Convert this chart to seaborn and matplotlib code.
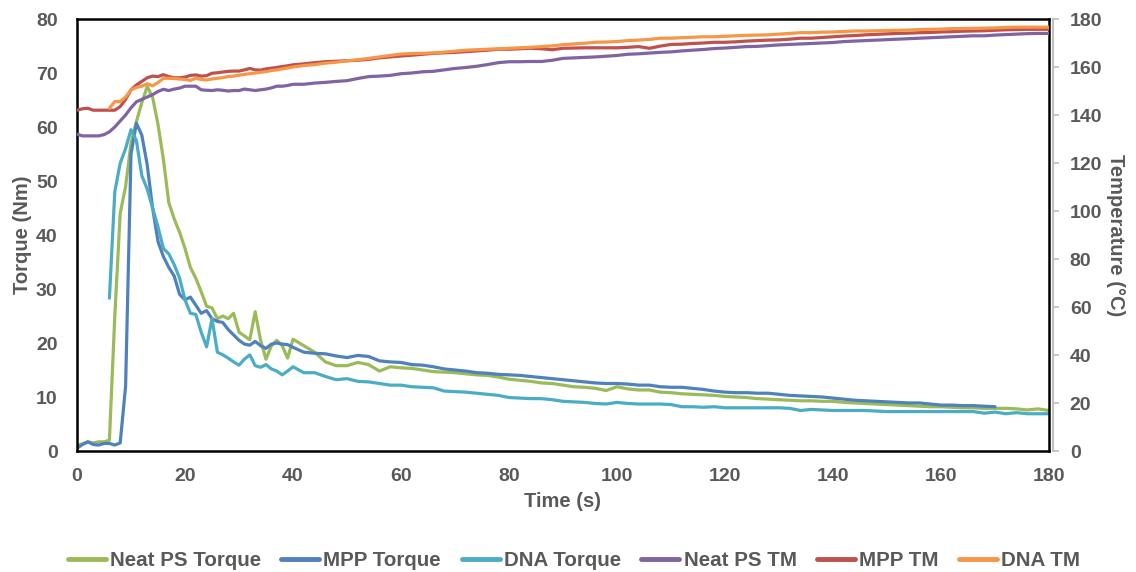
import numpy as np
import pandas as pd
import matplotlib
matplotlib.use("Agg")
import matplotlib.pyplot as plt
import seaborn as sns
from matplotlib.lines import Line2D

nan = np.nan

# ---- data ----
time_s = list(range(0, 41)) + list(range(42, 181, 2))

neat_ps_torque = [
    1.1, 1.3, 1.7, 1.5, 1.7, 1.7, 2.0, 25.0, 44.0, 49.0,
    57.0, 61.0, 64.5, 67.5, 65.5, 60.5, 54.0, 46.0, 43.0, 40.5,
    37.5, 34.0, 32.0, 29.5, 26.8, 26.5, 24.5, 25.0, 24.5, 25.5,
    22.0, 21.3, 20.6, 25.8, 20.5, 17.0, 19.5, 20.5, 19.5, 17.2,
    20.7,
    19.5, 18.3, 16.5, 15.8, 15.8, 16.4, 16.0, 14.8, 15.6, 15.4,
    15.3, 15.0, 14.7, 14.6, 14.5, 14.3, 14.1, 14.0, 13.7, 13.3,
    13.1, 12.9, 12.6, 12.5, 12.2, 11.9, 11.8, 11.6, 11.2, 11.9,
    11.5, 11.3, 11.3, 10.9, 10.8, 10.6, 10.5, 10.4, 10.3, 10.1,
    10.0, 9.9, 9.7, 9.6, 9.5, 9.4, 9.3, 9.3, 9.2, 9.2,
    9.0, 8.9, 8.8, 8.7, 8.6, 8.5, 8.4, 8.3, 8.2, 8.2,
    8.1, 8.0, 8.0, 7.9, 7.9, 7.9, 7.8, 7.6, 7.8, 7.5,
]

mpp_torque = [
    0.5, 1.2, 1.7, 1.2, 1.1, 1.4, 1.4, 1.1, 1.5, 12.0,
    55.0, 60.7, 58.5, 53.0, 45.0, 38.8, 36.0, 34.0, 32.4, 29.0,
    28.0, 28.5, 27.0, 25.5, 26.0, 24.5, 24.0, 23.8, 22.5, 21.5,
    20.5, 19.8, 19.6, 20.3, 19.5, 19.0, 19.8, 20.0, 19.8, 19.7,
    19.2,
    18.3, 18.1, 18.0, 17.6, 17.3, 17.7, 17.5, 16.7, 16.5, 16.4,
    16.0, 15.9, 15.6, 15.2, 15.0, 14.8, 14.5, 14.4, 14.2, 14.1,
    14.0, 13.8, 13.6, 13.4, 13.2, 13.0, 12.8, 12.6, 12.5, 12.5,
    12.4, 12.2, 12.2, 11.9, 11.8, 11.8, 11.6, 11.4, 11.1, 10.9,
    10.8, 10.8, 10.7, 10.7, 10.5, 10.3, 10.2, 10.1, 10.0, 9.8,
    9.6, 9.4, 9.3, 9.2, 9.1, 9.0, 8.9, 8.9, 8.7, 8.5,
    8.5, 8.4, 8.4, 8.3, 8.2, nan, nan, nan, nan, nan,
]

dna_torque = [
    nan, nan, nan, nan, nan, nan, 28.3, 48.0, 53.3, 56.0,
    59.5, 57.5, 51.0, 48.5, 45.0, 41.5, 37.5, 36.5, 34.5, 32.0,
    28.0, 25.5, 25.3, 22.0, 19.3, 24.5, 18.3, 17.8, 17.2, 16.5,
    15.9, 17.0, 17.8, 15.8, 15.5, 16.0, 15.2, 14.8, 14.1, 14.8,
    15.6,
    14.5, 14.5, 13.8, 13.2, 13.4, 12.9, 12.8, 12.5, 12.2, 12.2,
    11.9, 11.8, 11.7, 11.1, 11.0, 10.9, 10.7, 10.5, 10.3, 9.9,
    9.8, 9.7, 9.7, 9.5, 9.2, 9.1, 9.0, 8.8, 8.7, 9.0,
    8.8, 8.7, 8.7, 8.7, 8.6, 8.2, 8.2, 8.1, 8.2, 8.0,
    8.0, 8.0, 8.0, 8.0, 8.0, 7.9, 7.5, 7.7, 7.6, 7.5,
    7.5, 7.5, 7.5, 7.4, 7.3, 7.3, 7.3, 7.3, 7.3, 7.3,
    7.3, 7.3, 7.3, 7.0, 7.2, 6.9, 7.1, 6.9, 6.9, 6.9,
]

neat_ps_tm = [
    132.0, 131.3, 131.3, 131.3, 131.3, 131.8, 133.0, 135.0, 137.5, 140.0,
    143.0, 145.5, 146.5, 147.5, 148.5, 149.8, 150.7, 150.2, 150.8, 151.2,
    152.0, 152.0, 152.0, 150.5, 150.3, 150.2, 150.5, 150.3, 150.0, 150.2,
    150.2, 150.8, 150.5, 150.2, 150.5, 150.8, 151.3, 152.0, 152.0, 152.3,
    152.8,
    152.8, 153.3, 153.6, 154.0, 154.3, 155.2, 156.0, 156.2, 156.5, 157.2,
    157.5, 158.0, 158.2, 158.8, 159.4, 159.8, 160.3, 161.0, 161.8, 162.2,
    162.2, 162.3, 162.3, 162.8, 163.6, 163.8, 164.0, 164.2, 164.5, 164.8,
    165.3, 165.5, 165.8, 166.1, 166.3, 166.7, 167.0, 167.3, 167.7, 167.9,
    168.2, 168.5, 168.6, 168.9, 169.2, 169.4, 169.6, 169.8, 170.0, 170.2,
    170.6, 170.8, 171.0, 171.2, 171.4, 171.6, 171.8, 172.0, 172.2, 172.4,
    172.6, 172.8, 173.0, 173.0, 173.3, 173.5, 173.7, 173.9, 174.0, 174.0,
]

mpp_tm = [
    142.0, 142.6, 142.8, 142.0, 142.0, 142.0, 142.0, 142.0, 143.5, 146.5,
    150.5, 152.5, 154.0, 155.5, 156.2, 156.0, 156.8, 156.0, 155.5, 155.5,
    155.8, 156.5, 156.7, 156.2, 156.4, 157.4, 157.6, 157.9, 158.2, 158.3,
    158.3, 158.8, 159.4, 158.8, 158.7, 159.2, 159.5, 159.8, 160.2, 160.5,
    160.9,
    161.3, 161.8, 162.2, 162.4, 162.6, 162.8, 163.2, 163.8, 164.2, 164.6,
    164.9, 165.3, 165.7, 165.9, 166.1, 166.4, 166.7, 167.0, 167.4, 167.4,
    167.6, 167.8, 167.6, 167.2, 167.8, 167.9, 168.0, 168.0, 168.0, 168.0,
    168.2, 168.5, 167.8, 168.7, 169.4, 169.5, 169.8, 170.0, 170.3, 170.3,
    170.5, 170.8, 171.0, 171.2, 171.3, 171.6, 172.0, 172.0, 172.3, 172.6,
    172.9, 173.1, 173.4, 173.6, 173.8, 174.0, 174.1, 174.3, 174.4, 174.6,
    174.7, 174.9, 175.0, 175.1, 175.3, 175.5, 175.6, 175.7, 175.7, 175.7,
]

dna_tm = [
    nan, nan, nan, nan, nan, nan, 142.8, 145.6, 145.6, 147.5,
    150.4, 151.5, 152.0, 153.0, 152.2, 153.5, 155.3, 155.3, 155.2, 155.0,
    154.8, 154.4, 155.3, 154.8, 154.6, 155.0, 155.3, 155.6, 156.0, 156.2,
    156.6, 156.9, 157.2, 157.5, 157.8, 158.1, 158.5, 158.8, 159.2, 159.6,
    160.0,
    160.6, 161.0, 161.6, 162.0, 162.6, 163.0, 163.6, 164.2, 164.8, 165.4,
    165.6, 165.7, 165.9, 166.2, 166.6, 167.0, 167.2, 167.4, 167.6, 167.8,
    168.0, 168.2, 168.5, 168.8, 169.3, 169.6, 169.9, 170.3, 170.4, 170.6,
    171.0, 171.2, 171.5, 172.0, 172.0, 172.2, 172.4, 172.6, 172.6, 172.8,
    173.0, 173.2, 173.3, 173.4, 173.7, 174.0, 174.3, 174.3, 174.5, 174.6,
    174.8, 175.0, 175.0, 175.1, 175.2, 175.3, 175.4, 175.6, 175.7, 175.8,
    176.0, 176.0, 176.1, 176.2, 176.3, 176.5, 176.6, 176.6, 176.6, 176.6,
]

torque_names = ["Neat PS Torque", "MPP Torque", "DNA Torque"]
tm_names = ["Neat PS TM", "MPP TM", "DNA TM"]
colors = {
    "Neat PS Torque": "#9BBB59", "MPP Torque": "#4F81BD", "DNA Torque": "#4BACC6",
    "Neat PS TM": "#8064A2", "MPP TM": "#C0504D", "DNA TM": "#F79646",
}

x_ticks = list(range(0, 181, 20))
torque_ticks = list(range(0, 81, 10))
temp_ticks = list(range(0, 181, 20))

# ---- long format ----
def long_df(names, series):
    frames = []
    for n, s in zip(names, series):
        frames.append(pd.DataFrame({"Time": time_s, "Value": s, "Series": n}))
    return pd.concat(frames, ignore_index=True).dropna()

df_torque = long_df(torque_names, [neat_ps_torque, mpp_torque, dna_torque])
df_tm = long_df(tm_names, [neat_ps_tm, mpp_tm, dna_tm])

sns.set_theme(style="white")
plt.rcParams["font.family"] = ["Liberation Sans", "DejaVu Sans"]
gray = "#595959"
fs_tick = 14
fs_label = 14.5

fig = plt.figure(figsize=(11.36, 5.72), dpi=100)
ax = fig.add_axes([77 / 1136, 1 - 451 / 572, (1049 - 77) / 1136, (451 - 19) / 572])
ax2 = ax.twinx()

# spines first (set_position resets tick styling)
for sp in ax.spines.values():
    sp.set_visible(True)
    sp.set_color("black")
    sp.set_linewidth(1.8)
for name, sp in ax2.spines.items():
    sp.set_visible(name == "right")
ax2.spines["right"].set_position(("outward", 3))
ax2.spines["right"].set_color("#BFBFBF")
ax2.spines["right"].set_linewidth(1.5)

lw = 2.3
sns.lineplot(data=df_torque, x="Time", y="Value", hue="Series", hue_order=torque_names,
             palette=colors, ax=ax, legend=False, errorbar=None, linewidth=lw)
sns.lineplot(data=df_tm, x="Time", y="Value", hue="Series", hue_order=tm_names,
             palette=colors, ax=ax2, legend=False, errorbar=None, linewidth=lw)

ax.set_xlim(0, 180)
ax.set_ylim(0, 80)
ax2.set_ylim(0, 180)
ax.set_xticks(x_ticks)
ax.set_yticks(torque_ticks)
ax2.set_yticks(temp_ticks)

ax.tick_params(axis="x", length=0, pad=12, labelsize=fs_tick, labelcolor=gray)
ax.tick_params(axis="y", length=0, pad=14, labelsize=fs_tick, labelcolor=gray)
ax2.tick_params(axis="y", which="both", right=True, length=4, width=1.2, color="#BFBFBF",
                pad=8, direction="out", labelsize=fs_tick, labelcolor=gray)
for lab in ax.get_xticklabels() + ax.get_yticklabels() + ax2.get_yticklabels():
    lab.set_fontweight("bold")

ax.set_xlabel("Time (s)", fontsize=fs_label, fontweight="bold", color=gray, labelpad=5)
ax.set_ylabel("Torque (Nm)", fontsize=fs_label, fontweight="bold", color=gray, labelpad=3)
ax2.set_ylabel("Temperature (°C)", fontsize=fs_label, fontweight="bold", color=gray,
               rotation=270, labelpad=16)

ax.grid(False)
ax2.grid(False)

handles = [Line2D([0], [0], color=colors[n], lw=3.5) for n in torque_names + tm_names]
fig.legend(handles, torque_names + tm_names, loc="center", bbox_to_anchor=(574 / 1136, 1 - 561 / 572),
           ncol=6, frameon=False, handlelength=1.85, handletextpad=0.2, columnspacing=1.0,
           prop=dict(size=14.8, weight="bold"), labelcolor=gray)

fig.savefig("out.png", dpi=100)
